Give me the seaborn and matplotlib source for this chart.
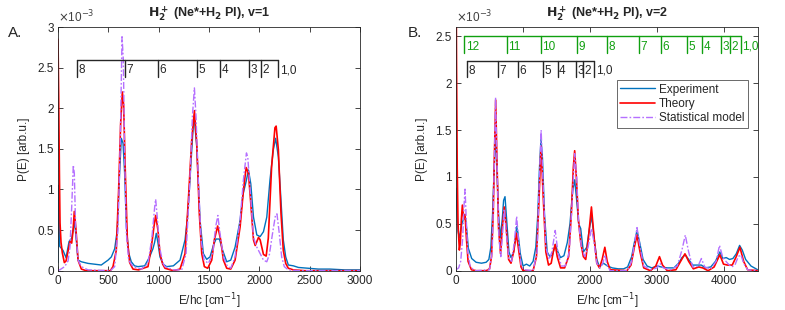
import matplotlib
matplotlib.use("Agg")
import matplotlib.pyplot as plt
import seaborn as sns
import pandas as pd

# --- data (P(E) in units of 1e-3) ---
# panel A, v=1
exp1_x = [0, 4, 10, 17, 30, 50, 80, 110, 136, 150,
          165, 180, 199, 232, 298, 364, 430, 463, 497, 530,
          563, 589, 612, 629, 646, 662, 679, 702, 728, 760,
          794, 861, 910, 943, 960, 976, 992, 1013, 1045, 1079,
          1146, 1212, 1262, 1290, 1311, 1345, 1355, 1378, 1411, 1444,
          1477, 1510, 1543, 1570, 1603, 1636, 1676, 1716, 1759, 1809,
          1836, 1869, 1892, 1915, 1942, 1975, 2008, 2041, 2074, 2106,
          2139, 2162, 2189, 2215, 2238, 2262, 2288, 2338, 2388, 2487,
          2586, 2700, 2850, 3000]
exp1_y = [0.1, 1.05, 0.95, 0.3, 0.28, 0.25, 0.16, 0.36, 0.40, 0.5,
          0.6, 0.4, 0.13, 0.11, 0.09, 0.08, 0.07, 0.1, 0.13, 0.17,
          0.27, 0.5, 1.2, 1.63, 1.57, 1.2, 0.55, 0.22, 0.11, 0.06,
          0.05, 0.06, 0.17, 0.27, 0.35, 0.46, 0.35, 0.17, 0.08, 0.05,
          0.06, 0.13, 0.38, 0.7, 1.12, 1.82, 1.86, 1.53, 0.62, 0.21,
          0.14, 0.17, 0.31, 0.39, 0.39, 0.25, 0.11, 0.13, 0.29, 0.62,
          0.93, 1.1, 1.24, 1.07, 0.66, 0.44, 0.42, 0.48, 0.66, 1.12,
          1.49, 1.63, 1.4, 0.87, 0.38, 0.17, 0.07, 0.06, 0.04, 0.03,
          0.02, 0.02, 0.01, 0.01]

theo1_x = [0, 7, 14, 20, 30, 43, 63, 80, 103, 119,
           136, 150, 162, 179, 199, 232, 280, 400, 520, 546,
           579, 602, 622, 639, 652, 669, 689, 712, 745, 800,
           894, 927, 953, 970, 993, 1013, 1040, 1063, 1146, 1212,
           1262, 1295, 1328, 1355, 1378, 1404, 1428, 1454, 1487, 1527,
           1553, 1586, 1616, 1643, 1676, 1716, 1759, 1809, 1842, 1869,
           1892, 1915, 1942, 1959, 1992, 2008, 2041, 2068, 2089, 2122,
           2155, 2167, 2189, 2215, 2238, 2262, 2288, 2338, 2450, 3000]
theo1_y = [2.85, 2.14, 1.2, 0.59, 0.35, 0.22, 0.1, 0.12, 0.26, 0.36,
           0.34, 0.5, 0.73, 0.5, 0.13, 0.02, 0.0, 0.0, 0.0, 0.05,
           0.25, 0.98, 1.8, 2.2, 2.04, 1.2, 0.38, 0.1, 0.02, 0.01,
           0.05, 0.29, 0.54, 0.68, 0.5, 0.21, 0.08, 0.03, 0.0, 0.02,
           0.21, 0.87, 1.6, 1.97, 1.57, 0.7, 0.21, 0.05, 0.03, 0.13,
           0.38, 0.55, 0.38, 0.13, 0.03, 0.02, 0.13, 0.54, 0.99, 1.27,
           1.2, 0.83, 0.38, 0.31, 0.41, 0.38, 0.2, 0.18, 0.4, 1.28,
           1.76, 1.78, 1.49, 0.71, 0.25, 0.09, 0.03, 0.01, 0.0, 0.0]

stat1_x = [0, 17, 66, 100, 119, 136, 152, 162, 175, 199,
           232, 298, 520, 563, 596, 619, 636, 649, 662, 679,
           702, 745, 828, 894, 933, 960, 970, 986, 1009, 1040,
           1063, 1146, 1229, 1272, 1311, 1335, 1355, 1371, 1394, 1421,
           1451, 1494, 1537, 1566, 1588, 1609, 1643, 1676, 1716, 1759,
           1809, 1842, 1872, 1885, 1909, 1942, 1975, 2008, 2041, 2074,
           2100, 2130, 2160, 2175, 2198, 2222, 2248, 2288, 2400, 3000]
stat1_y = [0.01, 0.01, 0.05, 0.12, 0.29, 0.78, 1.3, 1.2, 0.54, 0.13,
           0.05, 0.01, 0.0, 0.05, 0.5, 1.6, 2.88, 2.6, 1.4, 0.46,
           0.13, 0.05, 0.02, 0.09, 0.41, 0.78, 0.88, 0.66, 0.29, 0.1,
           0.05, 0.01, 0.01, 0.21, 1.12, 1.9, 2.25, 1.9, 1.12, 0.38,
           0.13, 0.09, 0.21, 0.54, 0.68, 0.46, 0.17, 0.07, 0.03, 0.17,
           0.62, 1.12, 1.45, 1.4, 0.99, 0.41, 0.29, 0.21, 0.13, 0.11,
           0.2, 0.45, 0.68, 0.7, 0.46, 0.17, 0.05, 0.01, 0.0, 0.0]

# panel B, v=2
exp2_x = [0, 10, 30, 50, 85, 110, 134, 159, 184, 234,
          300, 380, 450, 490, 520, 545, 570, 592, 610, 635,
          660, 690, 710, 731, 760, 790, 820, 860, 890, 905,
          925, 960, 1000, 1050, 1100, 1150, 1190, 1220, 1245, 1268,
          1290, 1320, 1360, 1400, 1440, 1480, 1520, 1560, 1610, 1660,
          1700, 1740, 1770, 1800, 1830, 1860, 1900, 1950, 1990, 2025,
          2060, 2100, 2140, 2200, 2260, 2330, 2420, 2500, 2560, 2620,
          2660, 2700, 2740, 2790, 2850, 2920, 3000, 3060, 3150, 3250,
          3320, 3370, 3420, 3470, 3530, 3600, 3660, 3720, 3800, 3870,
          3935, 3980, 4030, 4080, 4130, 4180, 4230, 4270, 4320, 4400,
          4500]
exp2_y = [0.88, 0.7, 0.42, 0.35, 0.49, 0.55, 0.6, 0.45, 0.24, 0.13,
          0.09, 0.08, 0.09, 0.12, 0.25, 0.6, 1.1, 1.49, 1.1, 0.6,
          0.35, 0.55, 0.75, 0.79, 0.5, 0.2, 0.14, 0.2, 0.38, 0.47,
          0.4, 0.18, 0.05, 0.07, 0.05, 0.1, 0.25, 0.6, 1.1, 1.4,
          1.2, 0.6, 0.2, 0.15, 0.17, 0.28, 0.2, 0.14, 0.16, 0.3,
          0.5, 0.85, 0.97, 0.75, 0.5, 0.45, 0.2, 0.25, 0.45, 0.58,
          0.35, 0.12, 0.04, 0.08, 0.05, 0.03, 0.02, 0.02, 0.04, 0.15,
          0.3, 0.43, 0.3, 0.12, 0.05, 0.03, 0.05, 0.04, 0.03, 0.03,
          0.08, 0.14, 0.17, 0.12, 0.06, 0.06, 0.06, 0.03, 0.04, 0.1,
          0.2, 0.13, 0.14, 0.12, 0.13, 0.18, 0.27, 0.22, 0.12, 0.05,
          0.01]

theo2_x = [0, 8, 18, 30, 50, 65, 80, 95, 115, 135,
           155, 180, 230, 300, 450, 500, 530, 555, 575, 592,
           610, 635, 665, 690, 720, 750, 785, 820, 860, 900,
           935, 970, 1000, 1150, 1200, 1235, 1268, 1300, 1340, 1380,
           1420, 1450, 1480, 1510, 1560, 1620, 1680, 1720, 1750, 1770,
           1795, 1825, 1860, 1900, 1935, 1975, 2020, 2060, 2100, 2140,
           2180, 2220, 2255, 2300, 2550, 2610, 2660, 2700, 2745, 2800,
           2900, 2980, 3035, 3080, 3150, 3280, 3350, 3415, 3470, 3540,
           3620, 3680, 3760, 3850, 3935, 3990, 4050, 4120, 4180, 4235,
           4290, 4350, 4500]
theo2_y = [3.5, 2.2, 1.1, 0.5, 0.22, 0.3, 0.55, 0.7, 0.55, 0.6,
           0.35, 0.1, 0.01, 0.0, 0.0, 0.02, 0.15, 0.6, 1.3, 1.82,
           1.2, 0.45, 0.18, 0.45, 0.68, 0.45, 0.12, 0.08, 0.2, 0.4,
           0.22, 0.04, 0.0, 0.0, 0.15, 0.7, 1.33, 0.8, 0.2, 0.06,
           0.08, 0.2, 0.28, 0.15, 0.03, 0.03, 0.15, 0.6, 1.1, 1.28,
           1.0, 0.55, 0.3, 0.15, 0.12, 0.35, 0.68, 0.35, 0.08, 0.03,
           0.12, 0.25, 0.1, 0.01, 0.0, 0.06, 0.25, 0.38, 0.2, 0.03,
           0.0, 0.05, 0.15, 0.06, 0.0, 0.01, 0.1, 0.18, 0.1, 0.02,
           0.04, 0.03, 0.0, 0.04, 0.17, 0.07, 0.06, 0.06, 0.15, 0.25,
           0.1, 0.01, 0.0]

stat2_x = [0, 40, 70, 100, 120, 135, 150, 175, 210, 260,
           300, 500, 540, 565, 590, 610, 640, 668, 695, 720,
           750, 790, 830, 870, 905, 935, 970, 1020, 1150, 1210,
           1240, 1270, 1300, 1340, 1390, 1430, 1480, 1520, 1570, 1630,
           1690, 1730, 1770, 1800, 1830, 1870, 1920, 1970, 2020, 2060,
           2100, 2150, 2190, 2220, 2255, 2300, 2560, 2620, 2665, 2700,
           2745, 2800, 2900, 3000, 3040, 3090, 3200, 3300, 3370, 3420,
           3470, 3530, 3610, 3660, 3710, 3800, 3880, 3930, 3980, 4050,
           4110, 4160, 4210, 4250, 4290, 4350, 4500]
stat2_y = [0.01, 0.03, 0.1, 0.35, 0.7, 0.87, 0.6, 0.2, 0.05, 0.01,
           0.0, 0.01, 0.2, 0.9, 1.85, 1.2, 0.35, 0.15, 0.4, 0.66,
           0.4, 0.12, 0.1, 0.3, 0.58, 0.3, 0.05, 0.01, 0.0, 0.2,
           0.9, 1.5, 0.9, 0.25, 0.12, 0.2, 0.43, 0.2, 0.05, 0.05,
           0.2, 0.7, 1.25, 1.0, 0.5, 0.25, 0.15, 0.25, 0.45, 0.3,
           0.08, 0.03, 0.08, 0.17, 0.06, 0.0, 0.0, 0.1, 0.3, 0.46,
           0.25, 0.05, 0.01, 0.03, 0.08, 0.03, 0.01, 0.05, 0.22, 0.38,
           0.2, 0.04, 0.05, 0.13, 0.04, 0.02, 0.1, 0.27, 0.14, 0.08,
           0.04, 0.06, 0.15, 0.17, 0.08, 0.01, 0.0]

# vibrational level combs (energies in cm^-1)
comb1_pos = [186, 666, 993, 1384, 1609, 1901, 2013, 2189]
comb1_lab = ["8", "7", "6", "5", "4", "3", "2", "1,0"]
comb2g_pos = [124, 756, 1263, 1800, 2248, 2730, 3054, 3451, 3675, 3954, 4088, 4252]
comb2g_lab = ["12", "11", "10", "9", "8", "7", "6", "5", "4", "3", "2", "1,0"]
comb2k_pos = [159, 622, 930, 1303, 1517, 1786, 1900, 2063]
comb2k_lab = ["8", "7", "6", "5", "4", "3", "2", "1,0"]

# --- style ---
sns.set_style("ticks")
plt.rcParams['font.family'] = ['Liberation Sans', 'DejaVu Sans']
plt.rcParams['font.size'] = 8.5
plt.rcParams['xtick.direction'] = 'in'
plt.rcParams['ytick.direction'] = 'in'
plt.rcParams['xtick.top'] = True
plt.rcParams['ytick.right'] = True
plt.rcParams['xtick.major.size'] = 3.5
plt.rcParams['ytick.major.size'] = 3.5
plt.rcParams['xtick.major.width'] = 0.6
plt.rcParams['ytick.major.width'] = 0.6
plt.rcParams['axes.linewidth'] = 0.6
plt.rcParams['axes.edgecolor'] = '#262626'
plt.rcParams['xtick.color'] = '#262626'
plt.rcParams['ytick.color'] = '#262626'

C_EXP = '#0072BD'
C_THEO = '#FF0000'
C_STAT = '#B570FF'
C_GREEN = '#10A010'
FS = 8.5

fig = plt.figure(figsize=(7.85, 3.1), dpi=100)
ax1 = fig.add_axes([58 / 785, 39.3 / 310, 302 / 785, 243.7 / 310])
ax2 = fig.add_axes([456 / 785, 39.3 / 310, 301.7 / 785, 243.7 / 310])


def draw_curves(ax, ex, ey, tx, ty, sx, sy):
    sns.lineplot(x=ex, y=ey, ax=ax, color=C_EXP, lw=1.0, label='Experiment')
    sns.lineplot(x=tx, y=ty, ax=ax, color=C_THEO, lw=1.2, label='Theory')
    sns.lineplot(x=sx, y=sy, ax=ax, color=C_STAT, lw=1.0,
                 linestyle=(0, (5, 1.5, 1.2, 1.5)), label='Statistical model')


def draw_comb(ax, pos, labels, ytop, ybot, color):
    ax.plot([pos[0], pos[-1]], [ytop, ytop], color=color, lw=1.0, clip_on=False)
    for p, lab in zip(pos, labels):
        ax.plot([p, p], [ytop, ybot], color=color, lw=1.0)
        ax.annotate(lab, (p, (ytop + ybot) / 2 - 0.02), xytext=(1.0, 0),
                    textcoords='offset points', va='center', ha='left',
                    color=color, fontsize=FS)


draw_curves(ax1, exp1_x, exp1_y, theo1_x, theo1_y, stat1_x, stat1_y)
draw_curves(ax2, exp2_x, exp2_y, theo2_x, theo2_y, stat2_x, stat2_y)

draw_comb(ax1, comb1_pos, comb1_lab, 2.59, 2.38, '#262626')
draw_comb(ax2, comb2g_pos, comb2g_lab, 2.5, 2.32, C_GREEN)
draw_comb(ax2, comb2k_pos, comb2k_lab, 2.24, 2.07, '#262626')

ax1.set_xlim(0, 3000)
ax1.set_ylim(0, 3)
ax1.set_xticks(range(0, 3001, 500))
ax1.set_yticks([0, 0.5, 1, 1.5, 2, 2.5, 3])
ax1.set_yticklabels(['0', '0.5', '1', '1.5', '2', '2.5', '3'])
ax1.get_legend().remove()

ax2.set_xlim(0, 4500)
ax2.set_ylim(0, 2.6)
ax2.set_xticks(range(0, 4001, 1000))
ax2.set_yticks([0, 0.5, 1, 1.5, 2, 2.5])
ax2.set_yticklabels(['0', '0.5', '1', '1.5', '2', '2.5'])
leg = ax2.legend(loc='upper right', bbox_to_anchor=(0.968, 0.7825), borderaxespad=0,
                 frameon=True, fancybox=False, fontsize=FS, handlelength=3.0,
                 borderpad=0.3, labelspacing=0.2, handletextpad=0.3)
leg.get_frame().set_edgecolor('#262626')
leg.get_frame().set_linewidth(0.6)

titles = [r"$\mathbf{H_2^+}$ (Ne*+H$_\mathbf{2}$ PI), v=1",
          r"$\mathbf{H_2^+}$ (Ne*+H$_\mathbf{2}$ PI), v=2"]
for ax, t, letter, lx in [(ax1, titles[0], 'A.', 8), (ax2, titles[1], 'B.', 408)]:
    ax.set_title(t, fontsize=9, fontweight='bold', pad=7)
    ax.set_xlabel(r"E/hc [cm$^{-1}$]", fontsize=FS, labelpad=3)
    ax.set_ylabel("P(E) [arb.u.]", fontsize=FS, labelpad=5)
    ax.tick_params(labelsize=FS, pad=3)
    ax.text(0.0, 1.005, r"$\times$10$^{-3}$", transform=ax.transAxes,
            ha='left', va='bottom', fontsize=FS, color='#404040')
    fig.text(lx / 785, 1 - 33 / 310, letter, fontsize=11, va='center', ha='left')

fig.savefig('out.png', dpi=100)
